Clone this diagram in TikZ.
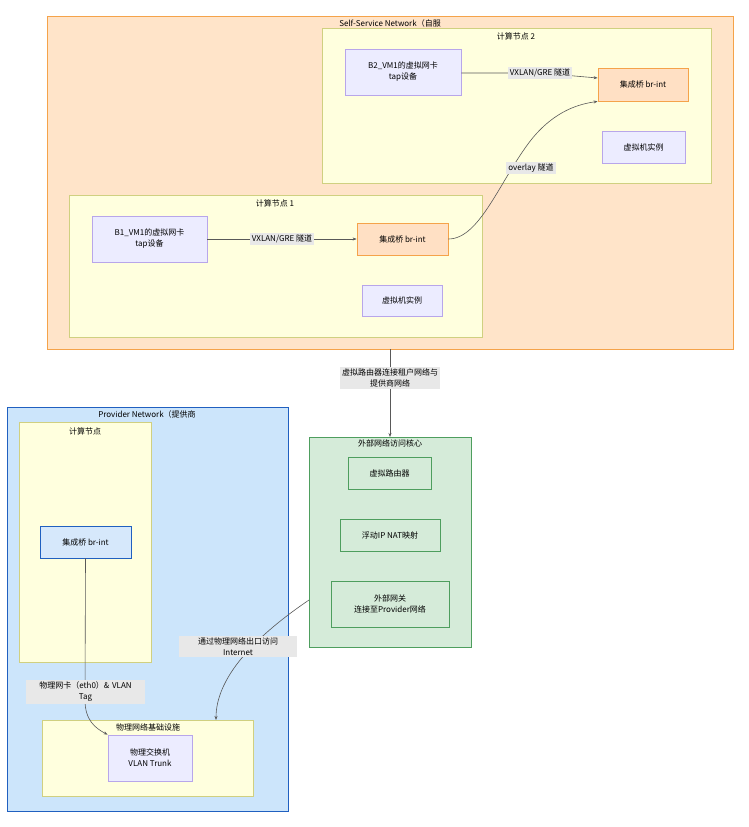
\documentclass[tikz,border=0pt]{standalone}
\usepackage{fontspec}
\setmainfont{Noto Sans CJK SC}
\usetikzlibrary{arrows.meta}
\definecolor{ssfill}{HTML}{FFE4C9}
\definecolor{ssdraw}{HTML}{F5A34A}
\definecolor{yfill}{HTML}{FFFFDE}
\definecolor{ydraw}{HTML}{D0D080}
\definecolor{pfill}{HTML}{CCE5FB}
\definecolor{pdraw}{HTML}{2060C0}
\definecolor{gfill}{HTML}{D5EBD9}
\definecolor{gdraw}{HTML}{4E9E5E}
\definecolor{nfill}{HTML}{ECECFF}
\definecolor{ndraw}{HTML}{B8A6EA}
\definecolor{ofill}{HTML}{FFE0C4}
\definecolor{bfill}{HTML}{D6E8FB}
\definecolor{lfill}{HTML}{E8E8E8}
\begin{document}
\begin{tikzpicture}[x=1pt,y=-1pt,
  every node/.style={font=\fontsize{8}{11}\selectfont, align=center, inner sep=1pt},
  grp/.style={draw, line width=0.8pt},
  nd/.style={draw=ndraw, fill=nfill, line width=0.8pt},
  lab/.style={fill=lfill, inner sep=2pt},
  ar/.style={draw=gray!70!black, line width=0.6pt, -{Stealth[length=4pt]}}]
\useasboundingbox (0,0) rectangle (749,827);
% groups
\path[grp, draw=ssdraw, fill=ssfill] (47,16) rectangle (733,349);
\node (tss) at (390,23) {Self-Service Network（自服};
\path[grp, draw=ydraw, fill=yfill] (322,28) rectangle (711,183);
\node (tc2) at (516,36) {计算节点 2};
\path[grp, draw=ydraw, fill=yfill] (69,195) rectangle (482,337);
\node (tc1) at (275,203) {计算节点 1};
\path[grp, draw=pdraw, fill=pfill] (7,407) rectangle (288,811);
\node (tpn) at (147,414) {Provider Network（提供商};
\node (tpn2) at (153,428) {）};
\path[grp, draw=ydraw, fill=yfill] (19,422) rectangle (151,662);
\node (tcn) at (85,431) {计算节点};
\path[grp, draw=ydraw, fill=yfill] (42,720) rectangle (253,796);
\node (tph) at (148,727) {物理网络基础设施};
\path[grp, draw=gdraw, fill=gfill] (309,437) rectangle (471,647);
\node (tex) at (390,443) {外部网络访问核心};
% nodes
\node[nd, minimum width=116pt, minimum height=46pt] (b2) at (403,72) {B2\_VM1的虚拟网卡\\tap设备};
\node[draw=ssdraw, fill=ofill, line width=0.8pt, minimum width=90pt, minimum height=33pt] (br2) at (643,84.5) {集成桥 br-int};
\node[nd, minimum width=83pt, minimum height=32pt] (vm2) at (643.5,147) {虚拟机实例};
\node[nd, minimum width=115pt, minimum height=46pt] (b1) at (149.5,239) {B1\_VM1的虚拟网卡\\tap设备};
\node[draw=ssdraw, fill=ofill, line width=0.8pt, minimum width=91pt, minimum height=32pt] (br1) at (402.5,239) {集成桥 br-int};
\node[nd, minimum width=80pt, minimum height=31pt] (vm1) at (402,300.5) {虚拟机实例};
\node[draw=pdraw, fill=bfill, line width=0.8pt, minimum width=91pt, minimum height=32pt] (brp) at (85.5,542) {集成桥 br-int};
\node[nd, minimum width=84pt, minimum height=46pt] (sw) at (150,758) {物理交换机\\VLAN Trunk};
\node[draw=gdraw, fill=gfill, line width=0.8pt, minimum width=83pt, minimum height=32pt] (vr) at (389.5,473) {虚拟路由器};
\node[draw=gdraw, fill=gfill, line width=0.8pt, minimum width=100pt, minimum height=32pt] (nat) at (390,535) {浮动IP NAT映射};
\node[draw=gdraw, fill=gfill, line width=0.8pt, minimum width=118pt, minimum height=46pt] (gw) at (390,604) {外部网关\\连接至Provider网络};
% edges
\coordinate (ssb) at (390,349);
\coordinate (ext) at (390,437);
\coordinate (exl) at (309,600);
\coordinate (phs) at (216,720);
\draw[ar] (b2.east |- 0,73) -- (540,73) -- (br2.west |- 0,78) node[pos=0, lab] {VXLAN/GRE 隧道};
\draw[ar] (b1) -- (br1) node[midway, lab] {VXLAN/GRE 隧道};
\draw[ar] (br1.east) .. controls (480,239) and (500,180) .. (531,140) .. controls (555,110) and (580,104) .. (br2.south west) ;
\node[lab] (ol) at (531,168) {overlay 隧道};
\draw[ar] (ssb) -- (ext) node[pos=0.33, lab] {虚拟路由器连接租户网络与\\提供商网络};
\draw[ar] (brp.south) -- (85,700) .. controls (85,720) and (95,728) .. (sw.north west);
\node[lab, text width=115pt] (l1) at (85.5,692) {物理网卡（eth0）\& VLAN\\Tag};
\draw[ar] (exl) .. controls (250,640) and (216,680) .. (phs);
\node[lab, text width=114pt] (l2) at (238,646.5) {通过物理网络出口访问\\Internet};
\end{tikzpicture}
\end{document}
